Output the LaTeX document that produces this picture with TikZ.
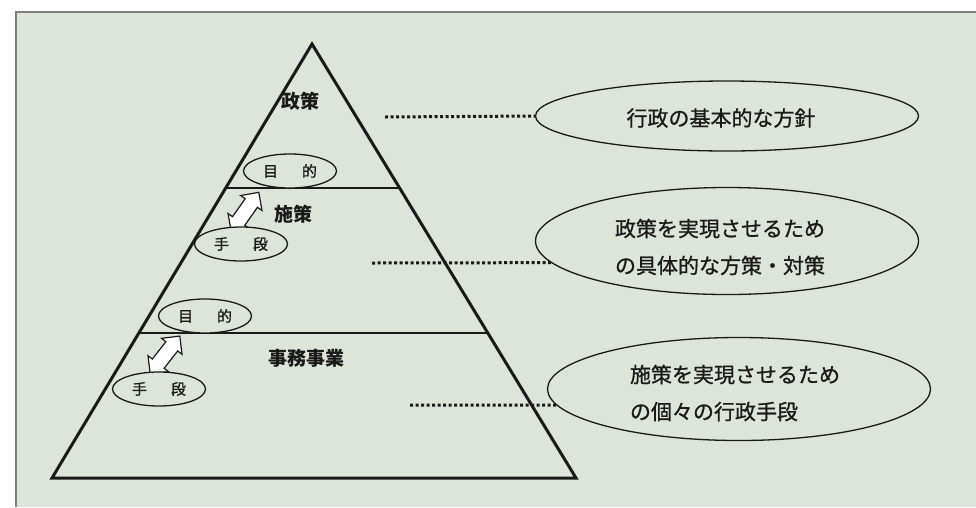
\documentclass[tikz,border=0pt]{standalone}
\usepackage{fontspec}
\newfontfamily\jp{Noto Sans CJK JP}
\newfontfamily\jpm[FakeBold=0.9]{Noto Sans CJK JP}
\usetikzlibrary{shapes.geometric}
\definecolor{bgc}{HTML}{DDE4D9}
\definecolor{ink}{HTML}{1A1A1A}
\tikzset{
  tri/.style={draw=ink, line width=3pt, line join=miter},
  level/.style={draw=ink, line width=2pt},
  lvl/.style={font=\jp\bfseries\fontsize{19}{21}\selectfont, text=ink, inner sep=0pt},
  smallell/.style={ellipse, draw=ink, line width=1.3pt, fill=bgc, minimum width=93pt, minimum height=34pt, inner sep=0pt, font=\jpm\fontsize{15}{17}\selectfont, text=ink},
  bigell/.style={ellipse, draw=ink, line width=1.3pt, fill=bgc, minimum width=383pt, inner sep=0pt},
  etext/.style={font=\jpm\fontsize{21}{37}\selectfont, text=ink, align=left, inner sep=0pt},
  dots/.style={draw=ink, line width=3pt, dash pattern=on 3pt off 2.5pt},
  blockarrow/.style={draw=ink, line width=1.2pt, fill=white, line join=miter}
}
\newcommand{\dblarrowpath}{(-24,0) -- (-11,13) -- (-11,7.5) -- (11,7.5) -- (11,13) -- (24,0) -- (11,-13) -- (11,-7.5) -- (-11,-7.5) -- (-11,-13) -- cycle}
\begin{document}
\begin{tikzpicture}[x=1pt,y=-1pt]
\useasboundingbox (0,0) rectangle (976,507);
\fill[white] (0,0) rectangle (976,507);
\fill[bgc] (16,12) rectangle (976,507);
\draw[gray, line width=1.2pt] (16,507) -- (16,12) -- (976,12);
% triangle
\coordinate (apex) at (312,44);
\coordinate (bl) at (52,478);
\coordinate (br) at (576,478);
\draw[tri] (apex) -- (bl) -- (br) -- cycle;
\coordinate (l1a) at (226,188);
\coordinate (l1b) at (400,188);
\coordinate (l2a) at (139,333);
\coordinate (l2b) at (488,333);
\draw[level] (l1a) -- (l1b);
\draw[level] (l2a) -- (l2b);
% level labels
\node[lvl] (seisaku) at (300,101) {政策};
\node[lvl] (shisaku) at (293,214) {施策};
\node[lvl] (jigyo) at (306,358) {事務事業};
% arrows
\begin{scope}[shift={(245,212)}, x={(0.574pt,0.819pt)}, y={(-0.819pt,0.574pt)}]
  \draw[blockarrow] \dblarrowpath;
\end{scope}
\begin{scope}[shift={(165,355)}, x={(0.616pt,0.788pt)}, y={(-0.788pt,0.616pt)}]
  \draw[blockarrow] \dblarrowpath;
\end{scope}
% small ellipses
\node[smallell] (mok1) at (290,171) {\raisebox{-3pt}{目\hspace{1.6em}的}};
\node[smallell] (shu1) at (241,244) {\raisebox{-2pt}{手\hspace{1.6em}段}};
\node[smallell] (mok2) at (205,316) {\raisebox{-3pt}{目\hspace{1.6em}的}};
\node[smallell] (shu2) at (159,389) {\raisebox{-2pt}{手\hspace{1.6em}段}};
% big ellipses
\node[bigell, minimum height=70pt] (e1) at (727,116) {};
\node[etext] (t1) at (721,118) {行政の基本的な方針};
\node[bigell, minimum height=107pt] (e2) at (727,241) {};
\node[etext] (t2) at (720,247) {政策を実現させるため\\の具体的な方策・対策};
\node[bigell, minimum height=103pt] (e3) at (739,389) {};
\node[etext] (t3) at (735,393) {施策を実現させるため\\の個々の行政手段};
% dotted connectors
\coordinate (d1) at (385,117);
\coordinate (d2) at (372,263);
\coordinate (d3) at (410,405);
\draw[dots] (d1) -- (e1.west);
\draw[dots] (d2) -- (e2.187);
\draw[dots] (d3) -- (e3.185);
\end{tikzpicture}
\end{document}
